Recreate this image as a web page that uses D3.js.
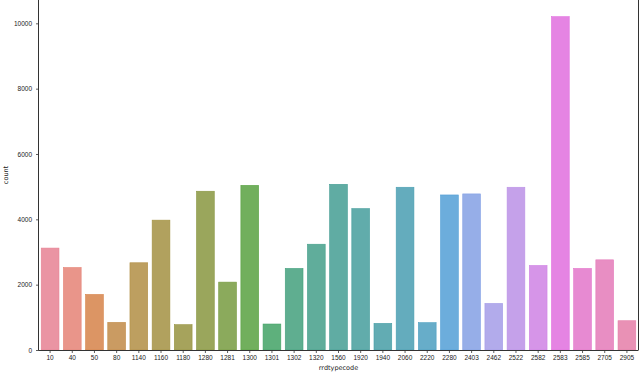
<!DOCTYPE html>
<html>
<head>
<meta charset="utf-8">
<script src="https://cdn.jsdelivr.net/npm/d3@7"></script>
<style>
  body { margin: 0; background: #fff; }
  svg { display: block; font-family: "DejaVu Sans", sans-serif; }
  .tick text { fill: #222; font-size: 6.5px; }
  .tick line { stroke: #333; }
</style>
</head>
<body>
<script>
/**
 * DATA
 */
const categories = ["10", "40", "50", "80", "1140", "1160", "1180", "1280", "1281",
  "1300", "1301", "1302", "1320", "1560", "1920", "1940", "2060", "2220", "2280",
  "2403", "2462", "2522", "2582", "2583", "2585", "2705", "2905"];
const counts = [3120, 2525, 1700, 845, 2670, 3975, 775, 4860, 2078,
  5040, 795, 2497, 3238, 5072, 4328, 815, 4982, 836, 4746,
  4778, 1426, 4982, 2588, 10204, 2497, 2760, 896];
const yTicks = [0, 2000, 4000, 6000, 8000, 10000];

/**
 * CONSTANTS
 */
const WIDTH = 640;
const HEIGHT = 372;
const margin = { top: 0, right: 2, bottom: 22, left: 39 };
const BAR_OPACITY = 0.85; // the picture's bars look a bit paler than the raw palette

/**
 * UTILITIES
 */

// seaborn's husl palette (old husl 2.x maths), then countplot's 0.75 desaturation
const M = [
  [3.2406, -1.5372, -0.4986],
  [-0.9689, 1.8758, 0.0415],
  [0.0557, -0.204, 1.057],
];
const REF_U = 0.19784, REF_V = 0.46834, KAPPA = 903.2963, EPS = 0.0088565;

const maxChroma = (L, H) => {
  const hrad = (H / 360) * 2 * Math.PI;
  const sinH = Math.sin(hrad), cosH = Math.cos(hrad);
  const sub1 = Math.pow(L + 16, 3) / 1560896;
  const sub2 = sub1 > EPS ? sub1 : L / KAPPA;
  let result = Infinity;
  for (const [m1, m2, m3] of M) {
    const top = (0.99915 * m1 + 1.05122 * m2 + 1.1446 * m3) * sub2;
    const rbottom = 0.8633 * m3 - 0.17266 * m2;
    const lbottom = 0.12949 * m3 - 0.38848 * m1;
    const bottom = (rbottom * sinH + lbottom * cosH) * sub2;
    for (const t of [0, 1]) {
      const C = (L * (top - 1.05122 * t)) / (bottom + 0.17266 * sinH * t);
      if (C > 0 && C < result) result = C;
    }
  }
  return result;
};

const huslToRgb = (H, S, L) => {
  const C = (maxChroma(L, H) / 100) * S;
  const hrad = (H / 360) * 2 * Math.PI;
  const U = Math.cos(hrad) * C, V = Math.sin(hrad) * C;
  const Y = L > 8 ? Math.pow((L + 16) / 116, 3) : L / KAPPA;
  const vu = U / (13 * L) + REF_U;
  const vv = V / (13 * L) + REF_V;
  const X = 0 - (9 * Y * vu) / ((vu - 4) * vv - vu * vv);
  const Z = (9 * Y - 15 * vv * Y - vv * X) / (3 * vv);
  const fromLinear = (c) =>
    c <= 0.0031308 ? 12.92 * c : 1.055 * Math.pow(c, 1 / 2.4) - 0.055;
  return M.map(([a, b, c]) =>
    Math.min(1, Math.max(0, fromLinear(a * X + b * Y + c * Z)))
  );
};

const huslPalette = (n) =>
  d3.range(n).map((i) => {
    const h = ((i / n + 0.01) % 1) * 359;
    const [r, g, b] = huslToRgb(h, 0.9 * 99, 0.65 * 99);
    const c = d3.hsl(d3.rgb(r * 255, g * 255, b * 255));
    c.s *= 0.75;
    return c.formatHex();
  });

/**
 * DRAW
 */
const svg = d3.select("body").append("svg")
  .attr("width", WIDTH)
  .attr("height", HEIGHT);

const x = d3.scaleBand()
  .domain(categories)
  .range([margin.left, WIDTH - margin.right])
  .paddingInner(0.2)
  .paddingOuter(0.1);

const y = d3.scaleLinear()
  .domain([0, d3.max(counts) * 1.05])
  .range([HEIGHT - margin.bottom, margin.top]);

const colors = huslPalette(categories.length);

svg.append("g")
  .selectAll("rect")
  .data(categories)
  .join("rect")
  .attr("x", (d) => x(d))
  .attr("width", x.bandwidth())
  .attr("y", (d, i) => y(counts[i]))
  .attr("height", (d, i) => y(0) - y(counts[i]))
  .attr("fill", (d, i) => colors[i])
  .attr("fill-opacity", BAR_OPACITY)
  .attr("stroke", (d, i) => colors[i])
  .attr("stroke-width", 0.6);

const yAxis = svg.append("g")
  .attr("transform", `translate(${margin.left},0)`)
  .call(d3.axisLeft(y).tickValues(yTicks).tickFormat(d3.format("d")).tickSize(3).tickPadding(4));

const xAxis = svg.append("g")
  .attr("transform", `translate(0,${HEIGHT - margin.bottom})`)
  .call(d3.axisBottom(x).tickSize(3).tickPadding(2));

for (const ax of [xAxis, yAxis]) {
  ax.select(".domain").remove();
  ax.selectAll(".tick line").attr("stroke-width", 0.8);
}

// spines: left, right and bottom
const spine = svg.append("g").attr("stroke", "#333").attr("stroke-width", 1);
spine.append("line")
  .attr("x1", margin.left - 0.5).attr("x2", margin.left - 0.5)
  .attr("y1", margin.top).attr("y2", y(0));
spine.append("line")
  .attr("x1", WIDTH - margin.right + 0.5).attr("x2", WIDTH - margin.right + 0.5)
  .attr("y1", margin.top).attr("y2", y(0));
spine.append("line")
  .attr("x1", margin.left - 0.5).attr("x2", WIDTH - margin.right + 0.5)
  .attr("y1", y(0) + 0.5).attr("y2", y(0) + 0.5);

svg.append("text")
  .attr("x", (margin.left + WIDTH - margin.right) / 2)
  .attr("y", HEIGHT - 2)
  .attr("text-anchor", "middle")
  .attr("font-size", "6.5px")
  .attr("fill", "#222")
  .text("rrdtypecode");

svg.append("text")
  .attr("transform", `translate(8,${y(0) / 2}) rotate(-90)`)
  .attr("text-anchor", "middle")
  .attr("font-size", "6.5px")
  .attr("fill", "#222")
  .text("count");
</script>
</body>
</html>
